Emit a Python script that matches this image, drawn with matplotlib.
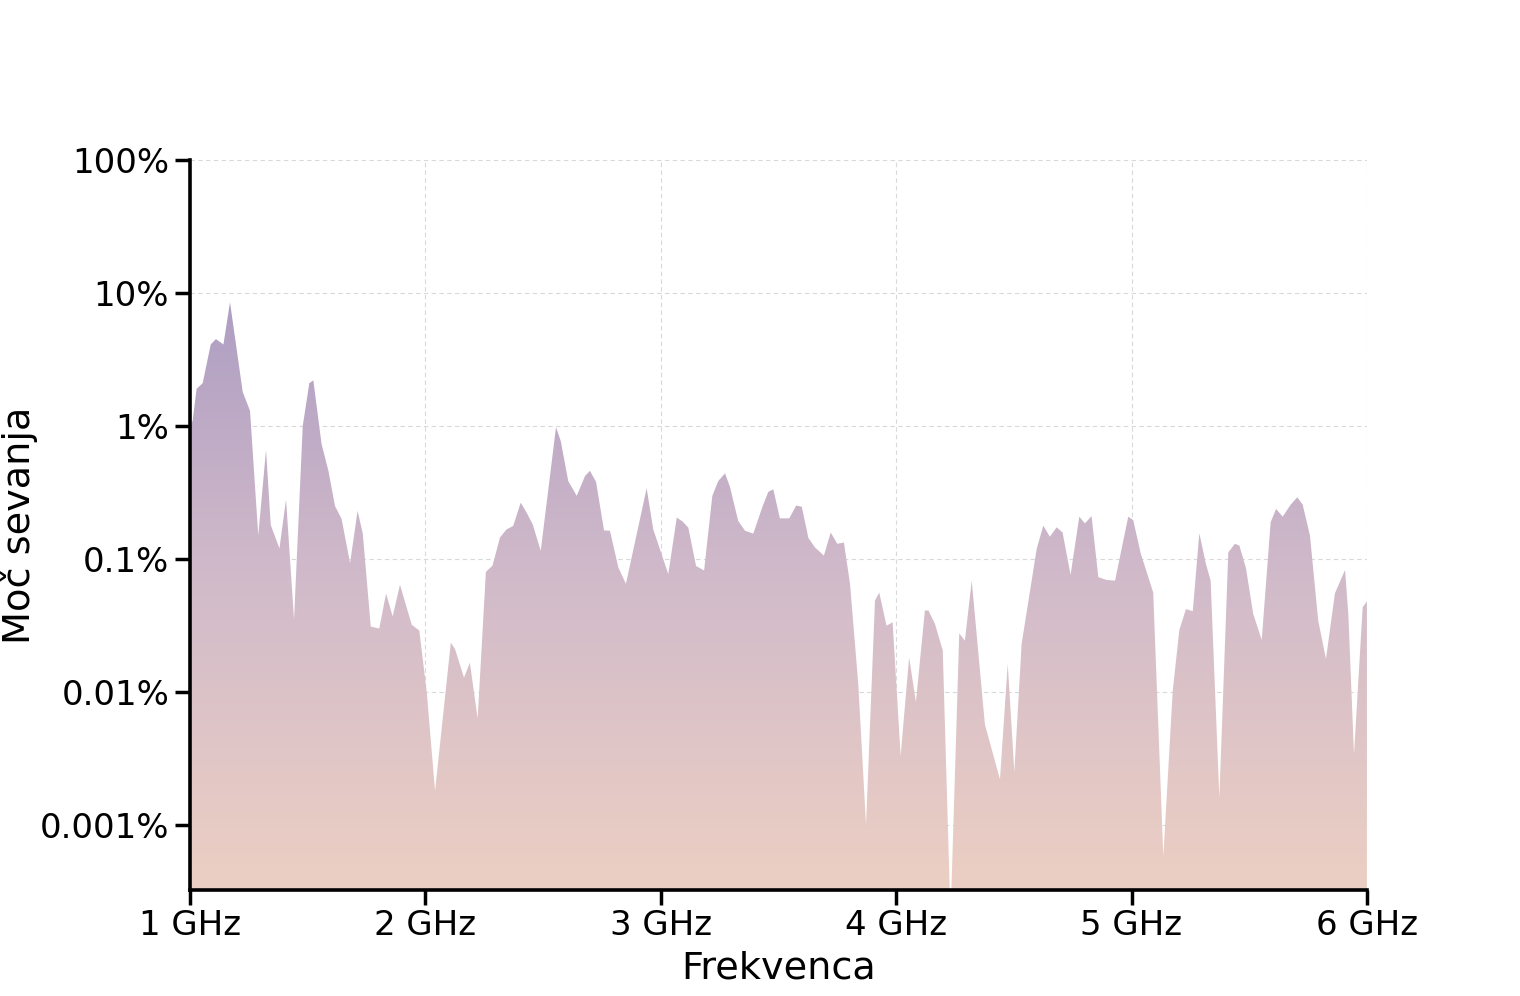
import numpy as np
import matplotlib
matplotlib.use("Agg")
import matplotlib.pyplot as plt
from matplotlib.colors import LinearSegmentedColormap
from matplotlib.ticker import FixedLocator, FixedFormatter

# ---- data -------------------------------------------------------------
freq_ghz = [
    1.000, 1.011, 1.028, 1.054, 1.088, 1.110, 1.142, 1.170, 1.224, 1.255,
    1.290, 1.323, 1.343, 1.380, 1.408, 1.442, 1.479, 1.507, 1.524, 1.559,
    1.588, 1.616, 1.644, 1.680, 1.712, 1.734, 1.768, 1.804, 1.833, 1.861,
    1.892, 1.942, 1.974, 2.006, 2.041, 2.108, 2.126, 2.164, 2.189, 2.222,
    2.257, 2.285, 2.317, 2.345, 2.373, 2.405, 2.430, 2.456, 2.490, 2.555,
    2.575, 2.607, 2.643, 2.678, 2.699, 2.725, 2.759, 2.784, 2.820, 2.852,
    2.940, 2.968, 3.032, 3.068, 3.093, 3.117, 3.150, 3.184, 3.219, 3.244,
    3.273, 3.294, 3.329, 3.358, 3.393, 3.433, 3.457, 3.478, 3.506, 3.546,
    3.575, 3.599, 3.627, 3.655, 3.693, 3.722, 3.750, 3.778, 3.804, 3.839,
    3.872, 3.910, 3.928, 3.959, 3.985, 4.019, 4.055, 4.084, 4.122, 4.137,
    4.165, 4.198, 4.231, 4.268, 4.292, 4.321, 4.377, 4.441, 4.474, 4.502,
    4.533, 4.597, 4.625, 4.653, 4.682, 4.707, 4.741, 4.778, 4.802, 4.830,
    4.859, 4.894, 4.930, 4.986, 5.007, 5.039, 5.092, 5.135, 5.175, 5.203,
    5.231, 5.260, 5.288, 5.316, 5.336, 5.373, 5.411, 5.439, 5.458, 5.486,
    5.517, 5.553, 5.591, 5.614, 5.642, 5.676, 5.704, 5.727, 5.758, 5.793,
    5.826, 5.864, 5.907, 5.921, 5.945, 5.982, 6.000,
]
power_pct = [
    1.0, 1.09, 1.9, 2.1, 4.1, 4.5, 4.1, 8.5, 1.8, 1.3,
    0.15, 0.66, 0.18, 0.12, 0.28, 0.035, 1.0, 2.1, 2.2, 0.73,
    0.46, 0.25, 0.20, 0.093, 0.23, 0.155, 0.031, 0.030, 0.055, 0.037,
    0.064, 0.032, 0.029, 0.0099, 0.0018, 0.0235, 0.021, 0.0128, 0.0166, 0.0063,
    0.080, 0.089, 0.145, 0.167, 0.177, 0.265, 0.223, 0.182, 0.115, 0.98,
    0.77, 0.385, 0.298, 0.42, 0.46, 0.38, 0.164, 0.163, 0.086, 0.065,
    0.34, 0.167, 0.077, 0.205, 0.191, 0.172, 0.0885, 0.082, 0.298, 0.385,
    0.44, 0.348, 0.193, 0.163, 0.155, 0.25, 0.32, 0.334, 0.202, 0.202,
    0.252, 0.247, 0.144, 0.122, 0.106, 0.158, 0.13, 0.133, 0.065, 0.0115,
    0.001, 0.0486, 0.056, 0.0315, 0.0334, 0.0033, 0.0182, 0.0084, 0.041, 0.041,
    0.0324, 0.0205, 0.0002, 0.0276, 0.0243, 0.0687, 0.0057, 0.0022, 0.0163, 0.0025,
    0.023, 0.119, 0.178, 0.147, 0.173, 0.158, 0.076, 0.208, 0.185, 0.21,
    0.073, 0.0695, 0.0687, 0.208, 0.196, 0.110, 0.056, 0.00058, 0.0102, 0.0292,
    0.042, 0.0405, 0.156, 0.0917, 0.0687, 0.0016, 0.112, 0.13, 0.126, 0.0855,
    0.0385, 0.0246, 0.189, 0.238, 0.208, 0.256, 0.291, 0.256, 0.15, 0.0344,
    0.0177, 0.0552, 0.0826, 0.0385, 0.0034, 0.0434, 0.048,
]
x_ticks = [1, 2, 3, 4, 5, 6]
x_tick_labels = ["1 GHz", "2 GHz", "3 GHz", "4 GHz", "5 GHz", "6 GHz"]
y_ticks = [0.001, 0.01, 0.1, 1, 10, 100]
y_tick_labels = ["0.001%", "0.01%", "0.1%", "1%", "10%", "100%"]
x_label = "Frekvenca"
y_label = "Moč sevanja"

# ---- figure ------------------------------------------------------------
plt.rcParams['font.family'] = ['DejaVu Sans']
fig = plt.figure(figsize=(15.2, 9.96), dpi=100)
ax = fig.add_axes([0.125, 0.1064, 0.7743, 0.733])

y_bottom = 10 ** (-3.489)
y_top = 100
ax.set_yscale('log')
ax.set_xlim(1, 6)
ax.set_ylim(y_bottom, y_top)

x = np.array(freq_ghz)
y = np.array(power_pct)

# fill polygon (invisible) used as clip for gradient
poly = ax.fill_between(x, y, y_bottom, facecolor='none', edgecolor='none', zorder=2)

# gradient spanning from data maximum down to the bottom of the axes
ymax_frac = (np.log10(y.max()) - np.log10(y_bottom)) / (np.log10(y_top) - np.log10(y_bottom))
cmap = LinearSegmentedColormap.from_list('grad', ['#ECCFC3', '#D3BCCA', '#AF9EC3'])
grad = np.linspace(0, 1, 256).reshape(-1, 1)
im = ax.imshow(grad, cmap=cmap, origin='lower', aspect='auto',
               extent=[0, 1, 0, ymax_frac], transform=ax.transAxes, zorder=2,
               interpolation='bicubic')
paths = poly.get_paths()
im.set_clip_path(paths[0], transform=ax.transData)

# grid
ax.grid(True, which='major', color='#d9d9d9', linestyle=(0, (4, 3)), linewidth=0.8, zorder=0)
ax.set_axisbelow(True)

# ticks
ax.xaxis.set_major_locator(FixedLocator(x_ticks))
ax.xaxis.set_major_formatter(FixedFormatter(x_tick_labels))
ax.yaxis.set_major_locator(FixedLocator(y_ticks))
ax.yaxis.set_major_formatter(FixedFormatter(y_tick_labels))
ax.yaxis.set_minor_locator(FixedLocator([]))
ax.tick_params(axis='both', which='major', labelsize=24.5, length=11, width=2.5,
               direction='out', color='black', pad=4)
ax.tick_params(axis='x', pad=3)

for s in ['top', 'right']:
    ax.spines[s].set_visible(False)
for s in ['left', 'bottom']:
    ax.spines[s].set_linewidth(2.6)
    ax.spines[s].set_color('black')
    ax.spines[s].set_zorder(5)

ax.set_xlabel(x_label, fontsize=27.5, labelpad=6)
ax.set_ylabel(y_label, fontsize=27.5)
ax.yaxis.set_label_coords(-0.129, 0.5)

fig.savefig('out.png', dpi=100, facecolor='white')
